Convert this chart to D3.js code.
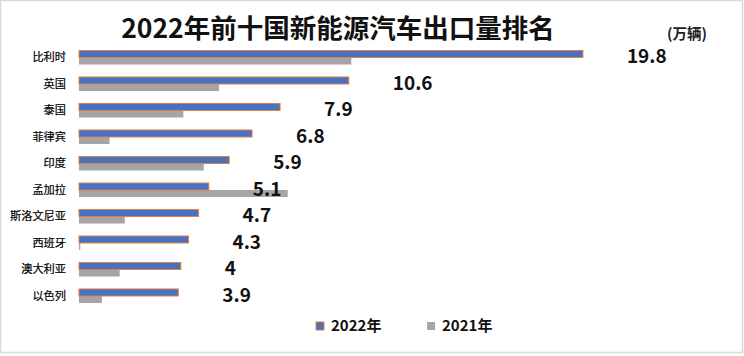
<!DOCTYPE html>
<html><head><meta charset="utf-8">
<script src="https://cdn.jsdelivr.net/npm/d3@7"></script>
<style>body{margin:0;background:#fff}svg{display:block}</style>
</head><body>
<script>
const categories = ["比利时","英国","泰国","菲律宾","印度","孟加拉","斯洛文尼亚","西班牙","澳大利亚","以色列"];
const values2022 = [19.8,10.6,7.9,6.8,5.9,5.1,4.7,4.3,4,3.9];
const values2021 = [10.7,5.5,4.1,1.2,4.9,8.2,1.8,0.05,1.6,0.9];
const seriesNames = ["2022年","2021年"];
const title = "2022年前十国新能源汽车出口量排名";
const unit = "(万辆)";

const W = 744, H = 356;
const font = "'Noto Sans CJK SC','Microsoft YaHei',sans-serif";
const svg = d3.select("body").append("svg").attr("width", W).attr("height", H);

svg.append("rect").attr("x",0.5).attr("y",0.5).attr("width",W-2).attr("height",H-4)
  .attr("fill","#fff").attr("stroke","#d9d9d9").attr("stroke-width",1.5);

const x = d3.scaleLinear().domain([0,20]).range([79, 79+20*25.45]);
const y = d3.scaleBand().domain(categories).range([44.25, 309.25]).paddingInner(0.47).paddingOuter(0.235);
const ySub = d3.scaleBand().domain(seriesNames).range([0, y.bandwidth()]);

const data = categories.map((c,i)=>({c, v: [values2022[i], values2021[i]]}));

const g = svg.append("g");
const grp = g.selectAll("g.cat").data(data).join("g")
  .attr("transform", d=>`translate(0,${y(d.c)})`);

// 2021 bars
grp.append("rect")
  .attr("x", x(0)).attr("y", ySub("2021年"))
  .attr("width", d=>x(d.v[1])-x(0)).attr("height", ySub.bandwidth())
  .attr("fill","#a5a5a5");
// 2022 bars
grp.append("rect")
  .attr("x", x(0)).attr("y", ySub("2022年"))
  .attr("width", d=>x(d.v[0])-x(0)).attr("height", ySub.bandwidth())
  .attr("fill","#4472c4").attr("stroke","#ed7d31").attr("stroke-width",1);

// value labels
grp.append("text")
  .attr("x", d=>x(d.v[0])+44).attr("y", y.bandwidth()/2+5.5)
  .attr("font-family", font).attr("font-weight","bold").attr("font-size",19)
  .attr("fill","#111").text(d=>d.v[0]);

// category axis labels
const yAxis = d3.axisLeft(y).tickSize(0).tickPadding(13);
const ax = svg.append("g").attr("transform",`translate(${x(0)},0)`).call(yAxis);
ax.select(".domain").remove();
ax.selectAll("text").attr("font-family",font).attr("font-size",11.2).attr("fill","#000")
  .attr("stroke","#000").attr("stroke-width",0.2);

// title
svg.append("text").attr("x",338).attr("y",38).attr("text-anchor","middle")
  .attr("font-family",font).attr("font-weight","bold").attr("font-size",26.5)
  .attr("fill","#111").text(title);
svg.append("text").attr("x",687).attr("y",39).attr("text-anchor","middle")
  .attr("font-family",font).attr("font-size",14.5).attr("font-weight","bold").attr("fill","#222").text(unit);

// legend
const legend = svg.append("g");
const lx = [316, 427];
seriesNames.forEach((s,i)=>{
  legend.append("rect").attr("x",lx[i]).attr("y",322).attr("width",8).attr("height",8)
    .attr("fill", i===0?"#4472c4":"#a5a5a5")
    .attr("stroke", i===0?"#ed7d31":"none").attr("stroke-width",1);
  legend.append("text").attr("x",lx[i]+15).attr("y",331)
    .attr("font-family",font).attr("font-weight","bold").attr("font-size",15)
    .attr("fill","#111").text(s);
});
</script>
</body></html>
